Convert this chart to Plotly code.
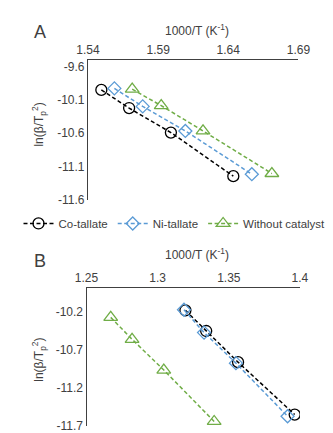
import plotly.graph_objects as go

# Panel A data
a_co_x = [1.5495, 1.5693, 1.5991, 1.6436]
a_co_y = [-9.951, -10.223, -10.591, -11.245]
a_ni_x = [1.5588, 1.5790, 1.6094, 1.6568]
a_ni_y = [-9.928, -10.198, -10.566, -11.215]
a_wo_x = [1.5715, 1.5922, 1.6220, 1.6711]
a_wo_y = [-9.940, -10.187, -10.566, -11.205]

# Panel B data
b_co_x = [1.3195, 1.3341, 1.3565, 1.3963]
b_co_y = [-10.187, -10.457, -10.864, -11.549]
b_ni_x = [1.3185, 1.3326, 1.3550, 1.3913]
b_ni_y = [-10.179, -10.478, -10.877, -11.571]
b_wo_x = [1.2670, 1.2820, 1.3043, 1.3397]
b_wo_y = [-10.279, -10.565, -10.967, -11.639]

a_xticks = [1.54, 1.59, 1.64, 1.69]
a_xtext = ["1.54", "1.59", "1.64", "1.69"]
a_yticks = [-9.6, -10.1, -10.6, -11.1, -11.6]
b_xticks = [1.25, 1.30, 1.35, 1.40]
b_xtext = ["1.25", "1.3", "1.35", "1.4"]
b_yticks = [-10.2, -10.7, -11.2, -11.7]

names = ["Co-tallate", "Ni-tallate", "Without catalyst"]
colors = ["#000000", "#5B9BD5", "#70AD47"]
symbols = ["circle-open", "diamond-open", "triangle-up-open"]
sizes = [11, 10, 12]

FONT = "Liberation Sans, Arial, sans-serif"
fig = go.Figure()

sets = [
    (a_co_x, a_co_y, a_ni_x, a_ni_y, a_wo_x, a_wo_y, "x", "y"),
    (b_co_x, b_co_y, b_ni_x, b_ni_y, b_wo_x, b_wo_y, "x2", "y2"),
]
for si, (cx, cy, nx, ny, wx, wy, xa, ya) in enumerate(sets):
    for i, (xs, ys) in enumerate([(cx, cy), (nx, ny), (wx, wy)]):
        fig.add_trace(go.Scatter(
            x=xs, y=ys, mode="lines+markers", name=names[i],
            xaxis=xa, yaxis=ya, showlegend=(si == 0),
            line=dict(color=colors[i], width=1.5, dash="4px,2.5px"),
            marker=dict(symbol=symbols[i], size=sizes[i], color=colors[i],
                        line=dict(color=colors[i], width=1.3)),
        ))

W, H = 333, 433
def px(x): return x / W
def py(y): return 1 - y / H

axis_common = dict(showgrid=False, zeroline=False, showline=True,
                   linecolor="#404040", linewidth=1.2, ticks="",
                   tickfont=dict(family=FONT, size=12, color="#404040"))

fig.update_layout(
    width=W, height=H, margin=dict(l=0, r=0, t=0, b=0),
    plot_bgcolor="white", paper_bgcolor="white",
    font=dict(family=FONT, size=12, color="#404040"),
    xaxis=dict(domain=[px(73.3), px(300)], range=[1.54, 1.69], side="top",
               anchor="y", tickvals=a_xticks, ticktext=a_xtext, **axis_common),
    yaxis=dict(domain=[py(195), py(52.7)], range=[-11.6, -9.5], anchor="x",
               tickvals=a_yticks, ticktext=[f"{v:.1f}" for v in a_yticks], **axis_common),
    xaxis2=dict(domain=[px(71.7), px(301.7)], range=[1.25, 1.40], side="top",
                anchor="y2", tickvals=b_xticks, ticktext=b_xtext, **axis_common),
    yaxis2=dict(domain=[py(425), py(285)], range=[-11.7, -9.9], anchor="x2",
                tickvals=b_yticks, ticktext=[f"{v:.1f}" for v in b_yticks], **axis_common),
    showlegend=True,
    legend=dict(orientation="h", x=0.5, xanchor="center", y=py(219), yanchor="middle",
                font=dict(family=FONT, size=11.5, color="#404040"),
                itemwidth=30, tracegroupgap=0, bgcolor="rgba(0,0,0,0)",
                borderwidth=0),
)

ann = []
def text(x, y, t, size=12, angle=0):
    ann.append(dict(x=px(x), y=py(y), xref="paper", yref="paper", text=t,
                    showarrow=False, textangle=angle, xanchor="center", yanchor="middle",
                    font=dict(family=FONT, size=size, color="#404040")))

text(22, 24, "A", size=18)
text(22, 257, "B", size=18)
text(191, 22, "1000/T (K<sup>-1</sup>)")
text(191, 250, "1000/T (K<sup>-1</sup>)")
text(21, 118, "ln(β/T<sub>p</sub><sup>2</sup>)", angle=-90)
text(21, 357, "ln(β/T<sub>p</sub><sup>2</sup>)", angle=-90)
fig.update_layout(annotations=ann)

fig.write_html("out.html")
